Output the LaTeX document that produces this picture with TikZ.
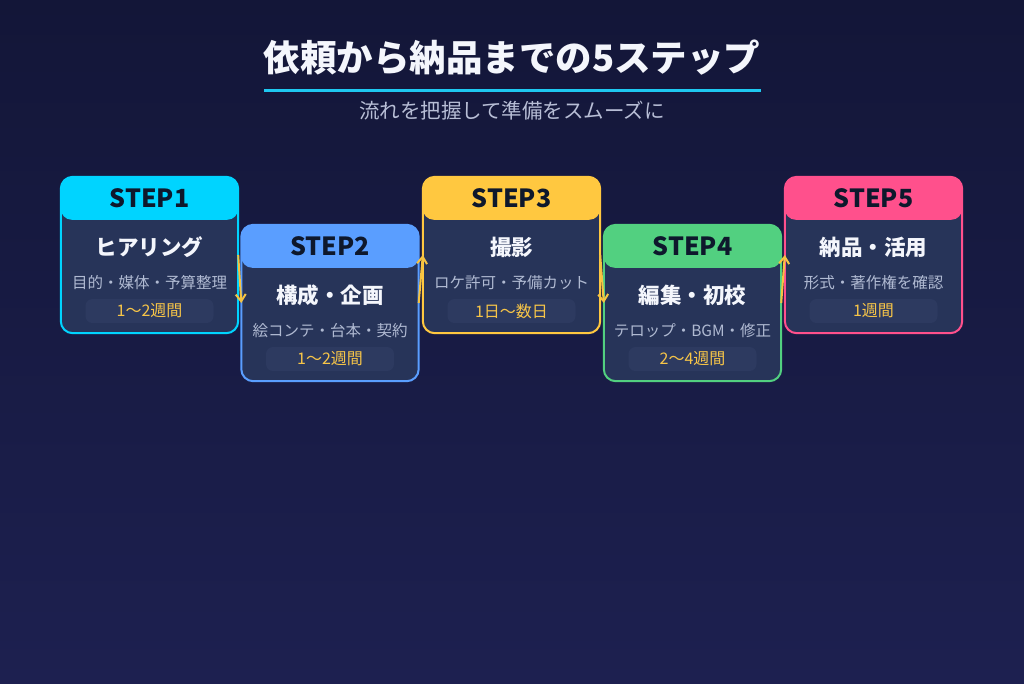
\documentclass[tikz,border=0pt]{standalone}
\usepackage{fontspec}
\setmainfont{Noto Sans CJK JP}
\usetikzlibrary{calc,arrows.meta}
\definecolor{bgtop}{RGB}{19,22,56}
\definecolor{bgbot}{RGB}{29,32,80}
\definecolor{cardfill}{RGB}{39,52,89}
\definecolor{badgefill}{RGB}{45,58,96}
\definecolor{cA}{RGB}{0,212,255}
\definecolor{cB}{RGB}{90,158,255}
\definecolor{cC}{RGB}{255,200,64}
\definecolor{cD}{RGB}{82,208,128}
\definecolor{cE}{RGB}{255,80,140}
\definecolor{titlewhite}{RGB}{244,246,252}
\definecolor{subgray}{RGB}{184,190,214}
\definecolor{descgray}{RGB}{176,186,210}
\definecolor{durgold}{RGB}{247,197,72}
\definecolor{steptext}{RGB}{14,24,44}
\definecolor{linecyan}{RGB}{30,200,240}
\definecolor{arrowgold}{RGB}{245,195,66}
\tikzset{
  cardbox/.style={minimum width=177pt,minimum height=156pt,inner sep=0pt,fill=cardfill,rounded corners=12pt},
  steplabel/.style={font=\fontsize{25}{27}\selectfont\bfseries,text=steptext,inner sep=0pt},
  cardtitle/.style={font=\fontsize{21.5}{24}\selectfont\bfseries,text=titlewhite,inner sep=0pt},
  carddesc/.style={font=\fontsize{15.5}{18}\selectfont,text=descgray,inner sep=0pt},
  badgebox/.style={minimum width=128pt,minimum height=24pt,inner sep=0pt,fill=badgefill,rounded corners=7pt,font=\fontsize{16}{18}\selectfont,text=durgold},
  flowarrow/.style={draw=arrowgold,line width=2pt,-{Straight Barb[length=7pt,width=10pt]}}
}
\newcommand{\stepcard}[7]{%
  \node[cardbox] (s#1) at (#2,#3) {};
  \fill[#4,rounded corners=11pt] (s#1.north west) rectangle ($(s#1.north east)+(0,43)$);
  \draw[#4,line width=2pt,rounded corners=12pt] (s#1.north west) rectangle (s#1.south east);
  \node[steplabel] (h#1) at ($(s#1.center)+(0,-57)$) {STEP#1};
  \node[cardtitle] (t#1) at ($(s#1.center)+(0,-8)$) {#5};
  \node[carddesc] (d#1) at ($(s#1.center)+(0,28)$) {#6};
  \node[badgebox] (b#1) at ($(s#1.center)+(0,56)$) {#7};
}
\begin{document}
\begin{tikzpicture}[x=1pt,y=-1pt]
\shade[top color=bgtop,bottom color=bgbot] (0,0) rectangle (1024,683);
\useasboundingbox (0,0) rectangle (1024,683);
\node[font=\fontsize{36.5}{40}\selectfont\bfseries,text=titlewhite,inner sep=0pt] (title) at (512,58) {依頼から納品までの5ステップ};
\coordinate (ulL) at (264,90);
\coordinate (ulR) at (761,90);
\draw[linecyan,line width=3pt] (ulL) -- (ulR);
\node[font=\fontsize{20.5}{24}\selectfont,text=subgray,inner sep=0pt] (subtitle) at (512,111) {流れを把握して準備をスムーズに};
\stepcard{1}{149.5}{255}{cA}{ヒアリング}{目的・媒体・予算整理}{1〜2週間}
\stepcard{2}{330}{303}{cB}{構成・企画}{絵コンテ・台本・契約}{1〜2週間}
\stepcard{3}{511.5}{255}{cC}{撮影}{ロケ許可・予備カット}{1日〜数日}
\stepcard{4}{692.5}{303}{cD}{編集・初校}{テロップ・BGM・修正}{2〜4週間}
\stepcard{5}{873.5}{255}{cE}{納品・活用}{形式・著作権を確認}{1週間}
\draw[flowarrow] (s1.east) -- (s2.west);
\draw[flowarrow] (s2.east) -- (s3.west);
\draw[flowarrow] (s3.east) -- (s4.west);
\draw[flowarrow] (s4.east) -- (s5.west);
\end{tikzpicture}
\end{document}
